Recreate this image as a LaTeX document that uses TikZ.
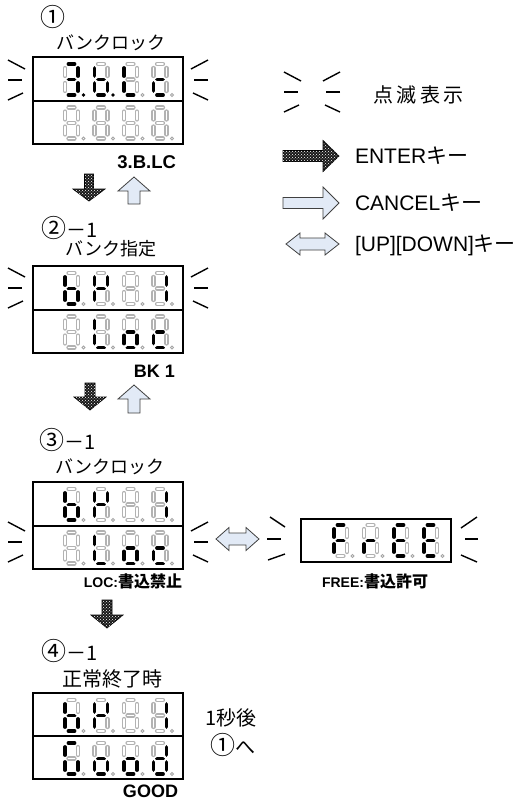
\documentclass[tikz,border=0pt]{standalone}
\usepackage{fontspec}
\setmainfont{Liberation Sans}
\newfontfamily\jp{Noto Sans CJK JP}
\usetikzlibrary{patterns}
\definecolor{cancelfill}{RGB}{226,234,246}
\newcommand\fs[1]{\fontsize{#1}{#1}\selectfont}
\tikzset{
  segon/.style={line width=3.8pt, line cap=round, black},
  segoffa/.style={line width=4.2pt, line cap=round, black!30},
  segoffb/.style={line width=1.8pt, line cap=round, white},
  dpoff/.style={draw=black!35, line width=0.9pt},
  dispbox/.style={draw, line width=2.2pt, inner sep=0pt, outer sep=0pt, anchor=north west},
  blink/.style={line width=1.4pt},
  enterarrow/.style={fill=black!90, postaction={pattern=crosshatch dots, pattern color=white}, draw=black, line width=0.7pt, line join=miter},
  cancelarrow/.style={fill=cancelfill, draw=black!75, line width=0.8pt},
  lab/.style={inner sep=0pt, outer sep=0pt},
}
\newcommand\sseg[3]{\ifnum#1=1 \draw[segon] #2 -- #3;\else\draw[segoffa] #2 -- #3;\draw[segoffb] #2 -- #3;\fi}
\def\segs#1#2#3#4#5#6#7#8{%
  \sseg{#1}{(5.5,2)}{(11.5,2)}%
  \sseg{#2}{(15,6)}{(15,14)}%
  \sseg{#3}{(15,21)}{(15,29)}%
  \sseg{#4}{(5.5,33)}{(11.5,33)}%
  \sseg{#5}{(2,21)}{(2,29)}%
  \sseg{#6}{(2,6)}{(2,14)}%
  \sseg{#7}{(5.5,17.5)}{(11.5,17.5)}%
  \ifnum#8=1 \fill[black] (20.5,33) circle (1.8);\else\draw[dpoff] (20.5,33) circle (1.4);\fi}
\newcommand\sdig[3]{\begin{scope}[shift={(#1,#2)}]\segs#3\end{scope}}
\newcommand\drow[5]{\sdig{63}{#1}{#2}\sdig{92.5}{#1}{#3}\sdig{122}{#1}{#4}\sdig{151.5}{#1}{#5}}
\newcommand\blinkL[2]{\draw[blink] (#1,#2-20) -- (#1+17,#2-11);\draw[blink] (#1,#2) -- (#1+14,#2);\draw[blink] (#1,#2+20) -- (#1+15,#2+13);}
\newcommand\blinkR[2]{\draw[blink] (#1,#2-20) -- (#1-17,#2-11);\draw[blink] (#1,#2) -- (#1-14,#2);\draw[blink] (#1,#2+20) -- (#1-15,#2+13);}
\newcommand\varrow[7]{\path[#7] (#1-#5,#2) -- (#1+#5,#2) -- (#1+#5,#3) -- (#1+#6,#3) -- (#1,#4) -- (#1-#6,#3) -- (#1-#5,#3) -- cycle;}
\newcommand\harrow[7]{\path[#7] (#2,#1-#5) -- (#3,#1-#5) -- (#3,#1-#6) -- (#4,#1) -- (#3,#1+#6) -- (#3,#1+#5) -- (#2,#1+#5) -- cycle;}
\newcommand\dharrow[7]{\path[#7] (#2,#1) -- (#2+#4,#1-#6) -- (#2+#4,#1-#5) -- (#3-#4,#1-#5) -- (#3-#4,#1-#6) -- (#3,#1) -- (#3-#4,#1+#6) -- (#3-#4,#1+#5) -- (#2+#4,#1+#5) -- (#2+#4,#1+#6) -- cycle;}
\begin{document}
\begin{tikzpicture}[x=1pt,y=-1pt]
\useasboundingbox[fill=white] (0,0) rectangle (529,801);

% ---------- Panel 1 ----------
\node[lab, font=\jp\fs{25}] (n1) at (52.5,17) {①};
\node[lab, font=\jp\fs{18}] (t1) at (111,43) {バンクロック};
\node[dispbox, minimum width=150pt, minimum height=87pt] (d1) at (33,57) {};
\draw[line width=2pt] (d1.west) -- (d1.east);
\drow{62}{11110011}{00111111}{00011100}{00011010}
\drow{105.5}{00000000}{00000000}{00000000}{00000000}
\blinkL{8}{80}\blinkR{208}{80}
\node[lab, font=\bfseries\fs{18.5}, anchor=base east] (l1) at (176,168) {3.B.LC};

\varrow{89}{174}{189}{201}{4.5}{16}{enterarrow}
\varrow{134}{204}{191}{177}{6}{16}{cancelarrow}

% ---------- Panel 2 ----------
\node[lab, anchor=west] (n2) at (41,228) {{\jp\fs{25}②}{\jp\fs{20}－1}};
\node[lab, font=\jp\fs{18}] (t2) at (111,249) {バンク指定};
\node[dispbox, minimum width=150pt, minimum height=87pt] (d2) at (33,266) {};
\draw[line width=2pt] (d2.west) -- (d2.east);
\drow{271}{00111110}{01001110}{00000000}{01100000}
\drow{314.5}{00000000}{00011100}{00111010}{00011010}
\blinkL{8}{288}\blinkR{208}{288}
\node[lab, font=\bfseries\fs{18}, anchor=base east] (l2) at (175,377) {BK 1};

\varrow{90}{383}{397}{410}{5}{16}{enterarrow}
\varrow{134}{413}{399}{385}{6}{16}{cancelarrow}

% ---------- Panel 3 ----------
\node[lab, anchor=west] (n3) at (39,440) {{\jp\fs{25}③}{\jp\fs{20}－1}};
\node[lab, font=\jp\fs{18}] (t3) at (110,467) {バンクロック};
\node[dispbox, minimum width=150pt, minimum height=87pt] (d3) at (33,482) {};
\draw[line width=2pt] (d3.west) -- (d3.east);
\drow{487}{00111110}{01001110}{00000000}{01100000}
\drow{530.5}{00000000}{00011100}{00111010}{00011010}
\blinkL{8}{542}\blinkR{208}{542}
\node[lab, anchor=base, font=\bfseries] (l3) at (133,587) {{\fs{14}LOC:}{\jp\fs{16}書込禁止}};

\dharrow{539}{216}{259}{13}{6}{11.5}{cancelarrow}

% FREE display
\node[dispbox, minimum width=150pt, minimum height=43pt] (d5) at (301,519) {};
\sdig{332}{523}{10001110}\sdig{362}{523}{00001010}\sdig{392}{523}{10011110}\sdig{422}{523}{10011110}
\draw[blink] (270,517) -- (285,527);\draw[blink] (267,539) -- (281,539);\draw[blink] (268,560) -- (285,554);
\draw[blink] (477,517) -- (461,528);\draw[blink] (465,539) -- (478,539);\draw[blink] (461,555) -- (477,562);
\node[lab, anchor=base, font=\bfseries] (l4) at (375,587) {{\fs{14}FREE:}{\jp\fs{16}書込許可}};

\varrow{107}{600}{615}{628}{5}{16}{enterarrow}

% ---------- Panel 4 ----------
\node[lab, anchor=west] (n4) at (41,651) {{\jp\fs{25}④}{\jp\fs{20}－1}};
\node[lab, font=\jp\fs{20}] (t4) at (112,679) {正常終了時};
\node[dispbox, minimum width=150pt, minimum height=86pt] (d4) at (33,693) {};
\draw[line width=2pt] (d4.west) -- (d4.east);
\drow{698}{00111110}{01001110}{00000000}{01100000}
\drow{741}{10111100}{00111010}{00111010}{01111010}
\node[lab, font=\bfseries\fs{18}, anchor=base east] (l5) at (178,797) {GOOD};
\node[lab, font=\jp\fs{20}, anchor=west] (s1) at (205,718) {1秒後};
\node[lab, anchor=west] (s2) at (210,745) {{\jp\fs{25}①}{\jp\fs{20}へ}};

% ---------- Legend ----------
\blinkL{284}{92}\blinkR{340}{92}
\node[lab, font=\jp\fs{20}, anchor=west] (g1) at (373,95) {点\hspace{3.5pt}滅\hspace{3.5pt}表\hspace{3.5pt}示};
\harrow{156}{283}{323}{339}{5.5}{15.5}{enterarrow}
\node[lab, anchor=base west] (g2) at (355,163.5) {{\fs{21}ENTER}{\jp\fs{21}キー}};
\harrow{203}{283}{323}{339}{5.5}{16}{cancelarrow}
\node[lab, anchor=base west] (g3) at (355,210.5) {{\fs{21}CANCEL}{\jp\fs{21}キー}};
\dharrow{244}{286}{339}{14}{6}{11}{cancelarrow}
\node[lab, anchor=base west] (g4) at (355,251.5) {{\fs{21}[UP][DOWN]}{\jp\fs{21}キー}};
\end{tikzpicture}
\end{document}
